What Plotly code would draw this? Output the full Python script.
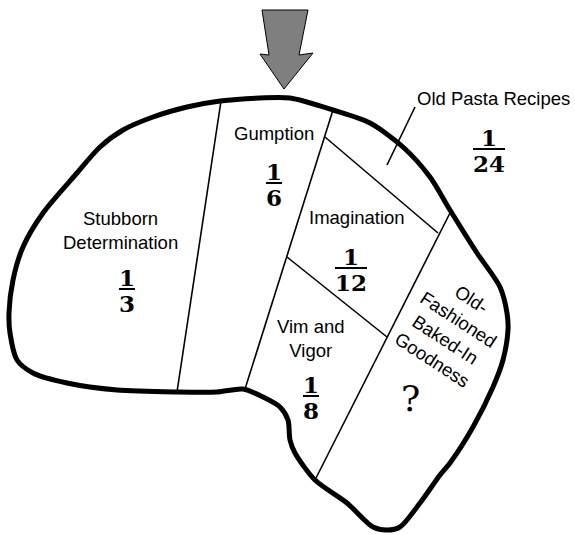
import plotly.graph_objects as go

# region labels and their share of the whole
REGIONS = [
    "Stubborn<br>Determination",
    "Gumption",
    "Imagination",
    "Vim and<br>Vigor",
    "Old Pasta Recipes",
]
NUMERATORS = [1, 1, 1, 1, 1]
DENOMINATORS = [3, 6, 12, 8, 24]
UNKNOWN_REGION = "Old-<br>Fashioned<br>Baked-In<br>Goodness"
UNKNOWN_VALUE = "?"

# drawing geometry (pixel space, y down)
OUTLINE_X = [10, 9, 13, 23, 43, 77, 100, 123, 153, 187, 220, 260, 290, 333, 370, 403, 430,
             450, 477, 500, 507, 508, 503, 493, 473, 450, 440, 420, 400, 387, 373, 347, 315,
             295, 290, 288, 280, 263, 243, 217, 177, 117, 67, 33, 17, 10]
OUTLINE_Y = [333, 313, 280, 247, 213, 173, 147, 130, 117, 107, 101, 98, 98, 110, 123, 147, 177,
             210, 253, 287, 313, 330, 360, 387, 427, 463, 475, 503, 527, 530, 527, 503, 480,
             453, 440, 420, 407, 397, 389, 392, 392, 390, 383, 373, 360, 333]

DIVIDERS = [
    ([221, 177], [101, 392]),
    ([333, 245], [110, 389]),
    ([325, 438], [137, 233]),
    ([287, 387], [257, 337]),
    ([451, 315], [211, 480]),
    ([415, 387], [107, 165]),
]

ARROW_X = [262, 308, 299, 313, 284, 260, 269, 262]
ARROW_Y = [10, 10, 55, 53, 89, 54, 55, 10]

LABEL_POS = [(120, 230), (274, 133), (357, 217), (311, 338), (493, 98)]
FRACTION_POS = [(127, 289), (274, 183), (351, 268), (311, 396), (489, 149)]

SANS = "Liberation Sans, Arial, sans-serif"
SERIF = "DejaVu Serif, serif"

fig = go.Figure()

fig.add_trace(go.Scatter(x=ARROW_X, y=ARROW_Y, mode="lines", fill="toself",
                         fillcolor="#7f7f7f", line=dict(color="#000000", width=1)))

fig.add_trace(go.Scatter(x=OUTLINE_X, y=OUTLINE_Y, mode="lines",
                         line=dict(color="#000000", width=5, shape="spline", smoothing=0.8)))

for xs, ys in DIVIDERS:
    fig.add_trace(go.Scatter(x=xs, y=ys, mode="lines", line=dict(color="#000000", width=1.6)))

for name, (lx, ly) in zip(REGIONS, LABEL_POS):
    fig.add_annotation(x=lx, y=ly, text=name, showarrow=False,
                       font=dict(family=SANS, size=18.5, color="#000000"))

for num, den, (fx, fy) in zip(NUMERATORS, DENOMINATORS, FRACTION_POS):
    half = 8 * max(len(str(num)), len(str(den)))
    fig.add_trace(go.Scatter(x=[fx - half, fx + half], y=[fy, fy], mode="lines",
                             line=dict(color="#000000", width=2)))
    fig.add_annotation(x=fx, y=fy - 12, text=f"<b>{num}</b>", showarrow=False,
                       font=dict(family=SERIF, size=23, color="#000000"))
    fig.add_annotation(x=fx, y=fy + 14, text=f"<b>{den}</b>", showarrow=False,
                       font=dict(family=SERIF, size=23, color="#000000"))

fig.add_annotation(x=452, y=329, text=UNKNOWN_REGION, showarrow=False, textangle=33,
                   font=dict(family=SANS, size=18.5, color="#000000"))
fig.add_annotation(x=410, y=398, text=UNKNOWN_VALUE, showarrow=False,
                   font=dict(family=SERIF, size=36, color="#000000"))

fig.update_layout(
    width=575,
    height=535,
    margin=dict(l=0, r=0, t=0, b=0),
    showlegend=False,
    hovermode=False,
    plot_bgcolor="#ffffff",
    paper_bgcolor="#ffffff",
    xaxis=dict(range=[0, 575], visible=False, fixedrange=True),
    yaxis=dict(range=[535, 0], visible=False, fixedrange=True),
)

# drop the default page margin so the figure fills the window exactly
fig.write_html(
    "out.html",
    config={"displayModeBar": False, "staticPlot": True},
    post_script="document.body.style.margin='0';document.body.style.overflow='hidden';",
)
